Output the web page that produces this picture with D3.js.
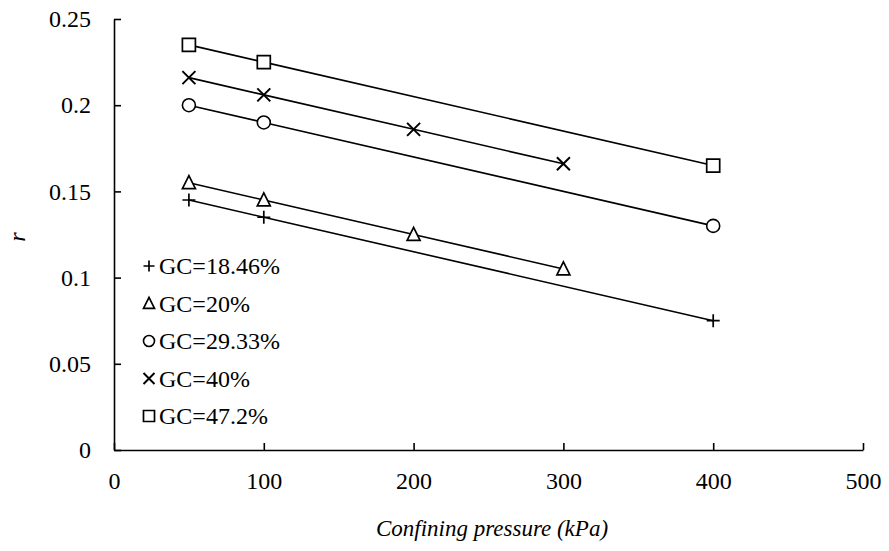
<!DOCTYPE html>
<html>
<head>
<meta charset="utf-8">
<script src="https://cdn.jsdelivr.net/npm/d3@7"></script>
<style>
  body { margin: 0; background: #fff; }
</style>
</head>
<body>
<div id="main"></div>
<script>
// data
const seriesNames = ["GC=18.46%", "GC=20%", "GC=29.33%", "GC=40%", "GC=47.2%"];
const seriesShapes = ["plus", "triangle", "circle", "cross", "square"];

const gc1846X = [50, 100, 400];
const gc1846Y = [0.145, 0.135, 0.075];
const gc20X = [50, 100, 200, 300];
const gc20Y = [0.155, 0.145, 0.125, 0.105];
const gc2933X = [50, 100, 400];
const gc2933Y = [0.200, 0.190, 0.130];
const gc40X = [50, 100, 200, 300];
const gc40Y = [0.216, 0.206, 0.186, 0.166];
const gc472X = [50, 100, 400];
const gc472Y = [0.235, 0.225, 0.165];

const xTicks = [0, 100, 200, 300, 400, 500];
const yTicks = [0, 0.05, 0.1, 0.15, 0.2, 0.25];
const yTickLabels = ["0", "0.05", "0.1", "0.15", "0.2", "0.25"];

const xTitle = "Confining pressure (kPa)";
const yTitle = "r";

const W = 889, H = 551;
const FONT = "'Liberation Serif'";

let x = d3.scaleLinear()
	.domain([0, 500])
	.range([114, 863]);

let y = d3.scaleLinear()
	.domain([0, 0.25])
	.range([450, 19]);

const series = [
	[gc1846X, gc1846Y], [gc20X, gc20Y], [gc2933X, gc2933Y], [gc40X, gc40Y], [gc472X, gc472Y]
].map((s, i) => ({
	name: seriesNames[i],
	shape: seriesShapes[i],
	points: s[0].map((v, j) => ({x: v, y: s[1][j]}))
}));

// marker path, h = half size
const markerPath = (shape, h) => {
	if (shape == "plus") return `M${-h},0H${h}M0,${-h}V${h}`;
	if (shape == "cross") return `M${-h},${-h}L${h},${h}M${-h},${h}L${h},${-h}`;
	if (shape == "triangle") return `M0,${-h * 1.1}L${h},${h * 0.9}L${-h},${h * 0.9}Z`;
	if (shape == "square") return `M${-h},${-h}H${h}V${h}H${-h}Z`;
	return null;
};

const drawMarker = (g, shape, h) => {
	if (shape == "circle") {
		g.append("circle").attr("r", h)
			.style("fill", "#fff").style("stroke", "#000").style("stroke-width", 1.6);
	} else {
		g.append("path").attr("d", markerPath(shape, h))
			.style("fill", shape == "plus" || shape == "cross" ? "none" : "#fff")
			.style("stroke", "#000").style("stroke-width", shape == "cross" ? 2 : 1.7);
	}
};

let svg = d3.select("#main")
	.append("svg")
		.attr("width", W)
		.attr("height", H);

// Y axis, ticks pointing inward
svg.append("g")
	.attr("transform", `translate(${x(0)},0)`)
	.call(d3.axisLeft(y)
		.tickValues(yTicks)
		.tickFormat((d, i) => yTickLabels[i])
		.tickSizeInner(-7)
		.tickSizeOuter(0)
		.tickPadding(23));

// X axis
svg.append("g")
	.attr("transform", `translate(0,${y(0)})`)
	.call(d3.axisBottom(x)
		.tickValues(xTicks)
		.tickFormat(d3.format("d"))
		.tickSizeInner(-7)
		.tickSizeOuter(0)
		.tickPadding(22));

svg.selectAll(".domain, .tick line")
	.style("stroke", "#000")
	.style("stroke-width", 1.6);
svg.selectAll(".tick text")
	.style("font-family", FONT)
	.style("font-size", "24px")
	.style("fill", "#000");

// axis titles
svg.append("text")
	.attr("x", 492)
	.attr("y", 536)
	.attr("text-anchor", "middle")
	.style("font-family", FONT)
	.style("font-size", "23px")
	.style("font-style", "italic")
	.text(xTitle);

svg.append("text")
	.attr("transform", "translate(25,237) rotate(-90)")
	.attr("text-anchor", "middle")
	.style("font-family", FONT)
	.style("font-size", "24px")
	.style("font-style", "italic")
	.text(yTitle);

// lines
const line = d3.line()
	.x(d => x(d.x))
	.y(d => y(d.y));

svg.append("g")
	.selectAll("path")
	.data(series)
	.enter()
	.append("path")
		.attr("d", d => line(d.points))
		.style("fill", "none")
		.style("stroke", "#000")
		.style("stroke-width", 1.6);

// markers
series.forEach(s => {
	s.points.forEach(p => {
		let g = svg.append("g")
			.attr("transform", `translate(${x(p.x)},${y(p.y)})`);
		drawMarker(g, s.shape, 6.5);
	});
});

// legend
let legend = svg.append("g");
series.forEach((s, i) => {
	let cy = 266 + i * 37.5;
	let g = legend.append("g")
		.attr("transform", `translate(149,${cy})`);
	drawMarker(g, s.shape, 5.5);
	legend.append("text")
		.attr("x", 159)
		.attr("y", cy)
		.attr("dy", "0.34em")
		.style("font-family", FONT)
		.style("font-size", "24px")
		.text(s.name);
});
</script>
</body>
</html>
